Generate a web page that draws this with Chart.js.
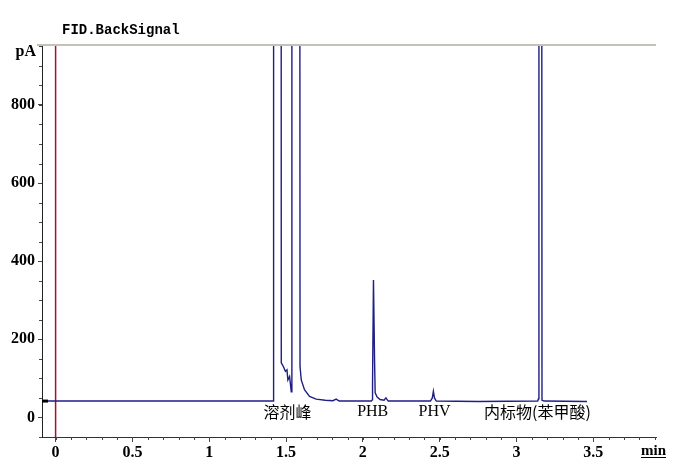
<!DOCTYPE html>
<html>
<head>
<meta charset="utf-8">
<script src="https://cdn.jsdelivr.net/npm/chart.js@4/dist/chart.umd.min.js"></script>
<style>
  html, body { margin: 0; padding: 0; background: #fff; }
  #wrap { width: 680px; height: 469px; }
</style>
</head>
<body>
<div id="wrap"><canvas id="fid" width="680" height="469"></canvas></div>
<script>
// retention time (min) and detector signal (pA)
const retentionMin = [
  -0.088, 1.416, 1.419, 1.467, 1.469, 1.483, 1.496, 1.506, 1.512, 1.523, 1.534,
  1.538, 1.588, 1.591, 1.599, 1.620, 1.653, 1.696, 1.755, 1.805, 1.826, 1.846,
  2.055, 2.061, 2.063, 2.069, 2.076, 2.080, 2.093, 2.112, 2.138, 2.150, 2.165,
  2.440, 2.452, 2.459, 2.466, 2.478, 2.750,
  3.138, 3.143, 3.146, 3.162, 3.166, 3.180, 3.459
];
const signalPA = [
  42, 42, 3000, 3000, 140, 130, 118, 122, 96, 105, 66,
  3000, 3000, 130, 96, 71, 54, 47, 44, 43, 47, 42,
  42, 45, 90, 352, 150, 63, 52, 46, 44, 50, 42,
  42, 50, 67, 50, 42, 41,
  42, 48, 3000, 3000, 44, 42, 41
];

const peakNames = ['溶剂峰', 'PHB', 'PHV', '内标物(苯甲酸)'];
const peakTimes = [1.509, 2.064, 2.467, 3.136];

const xTickValues = [0, 0.5, 1, 1.5, 2, 2.5, 3, 3.5];
const xTickLabels = ['0', '0.5', '1', '1.5', '2', '2.5', '3', '3.5'];
const yTickValues = [0, 200, 400, 600, 800];
const yTickLabels = ['0', '200', '400', '600', '800'];

const X_MIN = -0.0885, X_MAX = 3.908;
const Y_MIN = -50, Y_MAX = 953.5;
const baselineLevel = 42;

const points = retentionMin.map((t, i) => ({ x: t, y: signalPA[i] }));

const tickFont = { family: 'Liberation Serif', size: 16, weight: 'bold' };

const decor = {
  id: 'decor',
  afterDraw(chart) {
    const ctx = chart.ctx;
    const area = chart.chartArea;
    const xs = chart.scales.x, ys = chart.scales.y;
    ctx.save();

    // grey top border
    ctx.strokeStyle = '#c2c2b6';
    ctx.lineWidth = 2;
    ctx.beginPath();
    ctx.moveTo(area.left - 5, area.top);
    ctx.lineTo(area.right, area.top);
    ctx.stroke();

    // minor ticks
    ctx.strokeStyle = '#444';
    ctx.lineWidth = 1;
    ctx.beginPath();
    for (let i = 0; i * 0.1 <= X_MAX; i++) {
      const px = Math.round(xs.getPixelForValue(i * 0.1)) + 0.5;
      ctx.moveTo(px, area.bottom);
      ctx.lineTo(px, area.bottom + 3);
    }
    for (let v = -50; v <= Y_MAX; v += 50) {
      const py = Math.round(ys.getPixelForValue(v)) + 0.5;
      ctx.moveTo(area.left - 3, py);
      ctx.lineTo(area.left, py);
    }
    ctx.stroke();

    // baseline marker on the y axis
    ctx.fillStyle = '#000';
    const by = ys.getPixelForValue(baselineLevel);
    ctx.fillRect(area.left, by - 1.5, 6, 3);

    // title
    ctx.textBaseline = 'middle';
    ctx.textAlign = 'left';
    ctx.font = 'bold 14px "Liberation Mono"';
    ctx.fillText('FID.BackSignal', 62, 30);

    // axis units
    ctx.font = 'bold 16px "Liberation Serif"';
    ctx.textAlign = 'right';
    ctx.fillText('pA', 36, 52);
    ctx.textAlign = 'left';
    ctx.font = 'bold 15px "Liberation Serif"';
    ctx.fillText('min', 641, 451);
    const w = ctx.measureText('min').width;
    ctx.fillRect(641, 457, w, 1);

    // peak names
    ctx.textAlign = 'center';
    const ly = ys.getPixelForValue(14);
    peakNames.forEach((name, i) => {
      const px = xs.getPixelForValue(peakTimes[i]);
      ctx.font = /[A-Z]/.test(name) ? '16px "Liberation Serif"' : '16px "Noto Sans CJK SC"';
      ctx.fillText(name, px, ly);
    });
    ctx.restore();
  }
};

new Chart(document.getElementById('fid'), {
  type: 'line',
  data: {
    datasets: [
      {
        data: points,
        borderColor: '#1e1e84',
        borderWidth: 1.4,
        pointRadius: 0,
        tension: 0,
        order: 0
      },
      {
        data: [{ x: 0, y: Y_MIN }, { x: 0, y: Y_MAX }],
        borderColor: '#a5102c',
        borderWidth: 1.5,
        pointRadius: 0,
        order: 1
      }
    ]
  },
  options: {
    responsive: false,
    animation: false,
    devicePixelRatio: 1,
    layout: { padding: { top: 45, right: 24, left: 0, bottom: 0 } },
    plugins: { legend: { display: false }, tooltip: { enabled: false } },
    scales: {
      x: {
        type: 'linear',
        min: X_MIN,
        max: X_MAX,
        afterFit: s => { s.height = 32; },
        afterBuildTicks: s => { s.ticks = xTickValues.map(v => ({ value: v })); },
        ticks: {
          callback: (v, i) => xTickLabels[i],
          autoSkip: false,
          maxRotation: 0,
          color: '#000',
          font: tickFont,
          padding: 1
        },
        grid: { drawOnChartArea: false, drawTicks: true, tickLength: 5, color: '#444' },
        border: { color: '#333', width: 1 }
      },
      y: {
        type: 'linear',
        min: Y_MIN,
        max: Y_MAX,
        afterFit: s => { s.width = 42; },
        afterBuildTicks: s => { s.ticks = yTickValues.map(v => ({ value: v })); },
        ticks: {
          callback: (v, i) => yTickLabels[i],
          autoSkip: false,
          color: '#000',
          font: tickFont,
          padding: 3
        },
        grid: { drawOnChartArea: false, drawTicks: true, tickLength: 4, color: '#444' },
        border: { color: '#222', width: 1 }
      }
    }
  },
  plugins: [decor]
});
</script>
</body>
</html>
